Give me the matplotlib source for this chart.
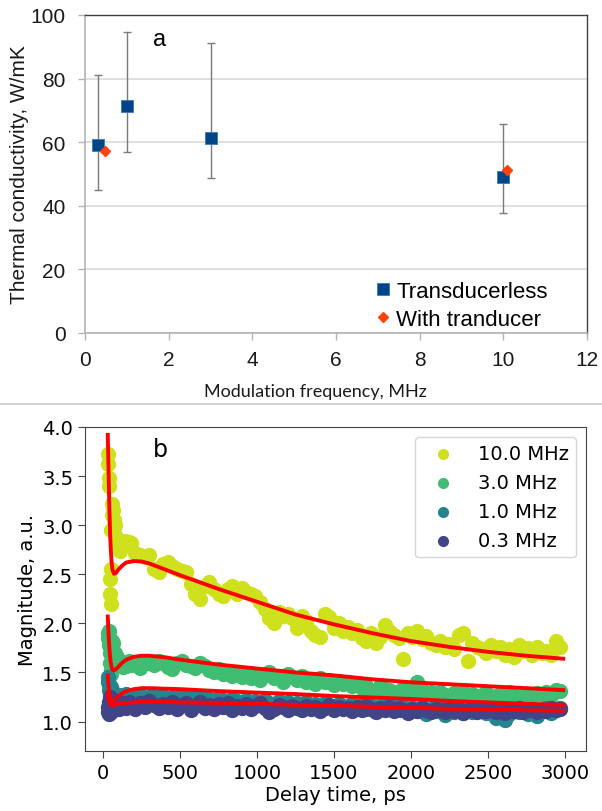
import matplotlib.pyplot as plt
from matplotlib.lines import Line2D

# ---- panel a: thermal conductivity vs modulation frequency ----
freq_tl = [0.3, 1.0, 3.0, 10.0]
k_tl = [59.0, 71.5, 61.3, 49.0]
k_tl_low = [45.0, 56.8, 48.6, 37.8]
k_tl_high = [81.0, 94.5, 91.2, 65.6]

freq_wt = [0.48, 10.09]
k_wt = [57.1, 51.3]

# ---- panel b: magnitude vs delay time ----
delay_ps = [
    30, 33, 36, 39, 42, 45, 48, 51, 54, 57,
    60, 65, 70, 75, 80, 90, 100, 110, 120, 130,
    140, 150, 165, 180, 210, 240, 270, 300, 330, 360,
    390, 420, 450, 480, 510, 540, 570, 600, 630, 660,
    690, 720, 750, 780, 810, 840, 870, 900, 930, 960,
    990, 1020, 1050, 1080, 1110, 1140, 1170, 1200, 1230, 1260,
    1290, 1320, 1350, 1380, 1410, 1440, 1470, 1500, 1530, 1560,
    1590, 1620, 1650, 1680, 1710, 1740, 1770, 1800, 1830, 1860,
    1890, 1920, 1950, 1980, 2010, 2040, 2070, 2100, 2130, 2160,
    2190, 2220, 2250, 2280, 2310, 2340, 2370, 2400, 2430, 2460,
    2490, 2520, 2550, 2580, 2610, 2640, 2670, 2700, 2730, 2760,
    2790, 2820, 2850, 2880, 2910, 2940, 2970,
]

mag_10 = [
    3.72, 3.62, 3.48, 3.40, 2.45, 2.30, 2.20, 2.55, 2.95, 3.10,
    3.22, 3.15, 3.05, 2.90, 3.00, 2.85, 2.78, 2.74, 2.80, 2.82,
    2.84, 2.80, 2.83, 2.82, 2.72, 2.70, 2.68, 2.70, 2.55, 2.52,
    2.60, 2.62, 2.58, 2.55, 2.53, 2.52, 2.40, 2.30, 2.25, 2.38,
    2.42, 2.35, 2.30, 2.28, 2.35, 2.38, 2.30, 2.36, 2.32, 2.30,
    2.28, 2.22, 2.15, 2.05, 2.00, 2.12, 2.08, 2.10, 2.05, 1.95,
    2.08, 2.02, 1.92, 1.88, 1.86, 2.10, 2.06, 1.95, 2.00, 1.92,
    1.96, 1.90, 1.93, 1.85, 1.82, 1.90, 1.80, 1.86, 1.98, 1.92,
    1.88, 1.85, 1.64, 1.90, 1.86, 1.92, 1.84, 1.87, 1.80, 1.78,
    1.82, 1.76, 1.79, 1.74, 1.88, 1.90, 1.62, 1.80, 1.76, 1.74,
    1.70, 1.78, 1.72, 1.76, 1.68, 1.74, 1.66, 1.78, 1.72, 1.75,
    1.68, 1.76, 1.70, 1.72, 1.68, 1.82, 1.76,
]

mag_3 = [
    1.90, 1.85, 1.78, 1.92, 1.70, 1.60, 1.52, 1.48, 1.75, 1.82,
    1.72, 1.80, 1.68, 1.62, 1.70, 1.66, 1.62, 1.58, 1.60, 1.56,
    1.60, 1.57, 1.62, 1.58, 1.60, 1.55, 1.62, 1.60, 1.58, 1.62,
    1.60, 1.56, 1.54, 1.60, 1.62, 1.58, 1.57, 1.55, 1.60, 1.57,
    1.52, 1.50, 1.54, 1.48, 1.50, 1.46, 1.48, 1.45, 1.47, 1.44,
    1.46, 1.42, 1.47, 1.50, 1.44, 1.46, 1.40, 1.48, 1.45, 1.42,
    1.46, 1.40, 1.43, 1.38, 1.44, 1.40, 1.42, 1.37, 1.41, 1.38,
    1.40, 1.36, 1.38, 1.34, 1.36, 1.30, 1.28, 1.36, 1.33, 1.32,
    1.30, 1.28, 1.34, 1.30, 1.27, 1.40, 1.32, 1.28, 1.30, 1.26,
    1.30, 1.27, 1.25, 1.29, 1.26, 1.30, 1.24, 1.28, 1.25, 1.27,
    1.29, 1.26, 1.24, 1.28, 1.25, 1.30, 1.27, 1.23, 1.26, 1.28,
    1.25, 1.29, 1.27, 1.30, 1.26, 1.32, 1.31,
]

mag_1 = [
    1.45, 1.40, 1.32, 1.38, 1.28, 1.22, 1.35, 1.30, 1.25, 1.30,
    1.27, 1.30, 1.24, 1.28, 1.25, 1.22, 1.27, 1.24, 1.26, 1.22,
    1.25, 1.28, 1.23, 1.26, 1.24, 1.27, 1.22, 1.25, 1.28, 1.24,
    1.26, 1.22, 1.25, 1.23, 1.27, 1.21, 1.24, 1.26, 1.22, 1.25,
    1.23, 1.20, 1.24, 1.22, 1.19, 1.23, 1.21, 1.18, 1.22, 1.20,
    1.21, 1.18, 1.22, 1.19, 1.17, 1.21, 1.18, 1.20, 1.16, 1.19,
    1.17, 1.20, 1.16, 1.18, 1.15, 1.19, 1.17, 1.14, 1.18, 1.16,
    1.15, 1.18, 1.14, 1.17, 1.13, 1.16, 1.12, 1.15, 1.17, 1.13,
    1.15, 1.12, 1.16, 1.10, 1.14, 1.11, 1.15, 1.08, 1.13, 1.11,
    1.14, 1.07, 1.12, 1.10, 1.13, 1.09, 1.12, 1.10, 1.14, 1.11,
    1.09, 1.13, 1.04, 1.11, 1.02, 1.08, 1.12, 1.10, 1.13, 1.08,
    1.12, 1.06, 1.11, 1.14, 1.09, 1.12, 1.14,
]

mag_03 = [
    1.10, 1.15, 1.08, 1.20, 1.12, 1.25, 1.18, 1.10, 1.14, 1.22,
    1.16, 1.12, 1.19, 1.14, 1.17, 1.21, 1.13, 1.18, 1.15, 1.19,
    1.17, 1.14, 1.20, 1.16, 1.13, 1.19, 1.15, 1.21, 1.17, 1.14,
    1.18, 1.15, 1.20, 1.13, 1.17, 1.19, 1.12, 1.16, 1.20, 1.14,
    1.17, 1.13, 1.18, 1.15, 1.19, 1.12, 1.16, 1.14, 1.18, 1.13,
    1.16, 1.19, 1.14, 1.10, 1.13, 1.17, 1.15, 1.12, 1.16, 1.14,
    1.12, 1.16, 1.13, 1.15, 1.11, 1.14, 1.17, 1.12, 1.15, 1.13,
    1.14, 1.11, 1.15, 1.12, 1.16, 1.13, 1.10, 1.14, 1.12, 1.15,
    1.11, 1.14, 1.12, 1.09, 1.13, 1.11, 1.14, 1.12, 1.10, 1.13,
    1.12, 1.10, 1.14, 1.11, 1.13, 1.09, 1.12, 1.14, 1.10, 1.12,
    1.11, 1.13, 1.10, 1.12, 1.09, 1.13, 1.11, 1.14, 1.10, 1.12,
    1.13, 1.10, 1.12, 1.11, 1.14, 1.12, 1.13,
]

# fitted curves (red)
fit_ps = [30, 35, 40, 45, 50, 55, 60, 70, 80, 100, 125, 150, 200, 250, 300,
          400, 500, 750, 1000, 1250, 1500, 1750, 2000, 2250, 2500, 2750, 2990]
fit_10 = [3.92, 3.55, 3.20, 2.92, 2.74, 2.62, 2.55, 2.505, 2.51, 2.55, 2.59, 2.62, 2.635, 2.63, 2.61,
          2.55, 2.49, 2.35, 2.22, 2.09, 1.99, 1.90, 1.82, 1.76, 1.71, 1.67, 1.64]
fit_3 = [2.07, 1.90, 1.76, 1.66, 1.59, 1.55, 1.53, 1.52, 1.53, 1.56, 1.60, 1.63, 1.66, 1.67, 1.67,
         1.655, 1.63, 1.58, 1.54, 1.50, 1.47, 1.43, 1.40, 1.38, 1.36, 1.34, 1.32]
fit_1 = [1.47, 1.36, 1.28, 1.24, 1.215, 1.205, 1.205, 1.215, 1.23, 1.26, 1.29, 1.31, 1.33, 1.34, 1.34,
         1.335, 1.33, 1.31, 1.295, 1.28, 1.26, 1.245, 1.23, 1.21, 1.195, 1.18, 1.17]
fit_03 = [1.30, 1.24, 1.20, 1.18, 1.17, 1.165, 1.165, 1.17, 1.175, 1.18, 1.185, 1.19, 1.195, 1.20, 1.20,
          1.20, 1.195, 1.19, 1.18, 1.17, 1.16, 1.15, 1.14, 1.13, 1.125, 1.115, 1.11]

series_labels = ['10.0 MHz', '3.0 MHz', '1.0 MHz', '0.3 MHz']
series_colors = ['#cfe11d', '#40bd72', '#25858e', '#414487']

fig = plt.figure(figsize=(6.02, 8.12), dpi=100)
W, H = 602.0, 812.0

# ================= panel a =================
axa = fig.add_axes([85 / W, 1 - 334 / H, 502 / W, 318 / H])
excel_font = ['Liberation Sans', 'DejaVu Sans']

err_low = [k - lo for k, lo in zip(k_tl, k_tl_low)]
err_high = [hi - k for k, hi in zip(k_tl, k_tl_high)]
axa.errorbar(freq_tl, k_tl, yerr=[err_low, err_high], fmt='none',
             ecolor='#7a7a7a', elinewidth=1.0, capsize=2.6, capthick=1.0, zorder=3)
axa.plot(freq_tl, k_tl, 's', color='#004586', markeredgecolor='#3a78b8',
         markeredgewidth=0.6, markersize=8.4, label='Transducerless', zorder=4)
axa.plot(freq_wt, k_wt, 'D', color='#ff420e', markeredgecolor='#ff420e',
         markersize=5.0, label='With tranducer', zorder=5)

axa.set_xlim(0, 12)
axa.set_ylim(0, 100)
axa.set_xticks(range(0, 13, 2))
axa.set_yticks(range(0, 101, 20))
axa.yaxis.grid(True, color='#d9d9d9', linewidth=1.2)
axa.set_axisbelow(True)
for side in ['top', 'right']:
    axa.spines[side].set_color('#404040')
    axa.spines[side].set_linewidth(1.0)
for side in ['left', 'bottom']:
    axa.spines[side].set_color('#b3b3b3')
    axa.spines[side].set_linewidth(1.2)
axa.tick_params(direction='out', length=5, width=1.0, color='#b3b3b3',
                labelsize=15, labelcolor='#1a1a1a')
axa.tick_params(axis='y', pad=9)
axa.tick_params(axis='x', pad=7)
for lab in axa.get_xticklabels() + axa.get_yticklabels():
    lab.set_family(excel_font)

axa.text(0.149, 0.925, 'a', transform=axa.transAxes, fontsize=17,
         family=excel_font, ha='center', va='center')

leg_a = axa.legend(loc='upper left', bbox_to_anchor=(364 / W, 1 - 271 / H),
                   bbox_transform=fig.transFigure, frameon=False, borderpad=0,
                   handlelength=0.7, handletextpad=0.25, labelspacing=0.3,
                   prop={'family': excel_font, 'size': 16})

fig.text(20 / W, 1 - 175 / H, 'Thermal conductivity, W/mK', rotation=90,
         ha='center', va='center', fontsize=15, family=excel_font, color='#1a1a1a')
fig.text(315 / W, 1 - 392 / H, 'Modulation frequency, MHz', ha='center', va='center',
         fontsize=13, family=['Lato', 'DejaVu Sans'], color='#1a1a1a')

fig.add_artist(Line2D([0, 1], [1 - 405 / H, 1 - 405 / H], color='#d3d3d3',
                      linewidth=1.5, transform=fig.transFigure))

# ================= panel b =================
axb = fig.add_axes([85 / W, 1 - 752 / H, 501 / W, 324 / H])
mags = [mag_10, mag_3, mag_1, mag_03]
fits = [fit_10, fit_3, fit_1, fit_03]
for mag, lab, col in zip(mags, series_labels, series_colors):
    axb.scatter(delay_ps, mag, s=100, color=col, label=lab, zorder=2)
for fit in fits:
    axb.plot(fit_ps, fit, color='red', linewidth=2.8, zorder=3)

axb.set_xlim(-118, 3138)
axb.set_ylim(0.7, 4.0)
axb.set_xticks([0, 500, 1000, 1500, 2000, 2500, 3000])
axb.set_yticks([1.0, 1.5, 2.0, 2.5, 3.0, 3.5, 4.0])
axb.set_yticklabels(['1.0', '1.5', '2.0', '2.5', '3.0', '3.5', '4.0'])
axb.tick_params(labelsize=14, length=5, color='#444444')
for sp in axb.spines.values():
    sp.set_color('#444444')
axb.set_xlabel('Delay time, ps', fontsize=14, labelpad=2)
axb.set_ylabel('Magnitude, a.u.', fontsize=14)
axb.text(0.15, 0.932, 'b', transform=axb.transAxes, fontsize=17,
         ha='center', va='center')
axb.legend(loc='upper right', fontsize=14, scatterpoints=1, markerscale=0.7)

fig.savefig('out.png', dpi=100)
